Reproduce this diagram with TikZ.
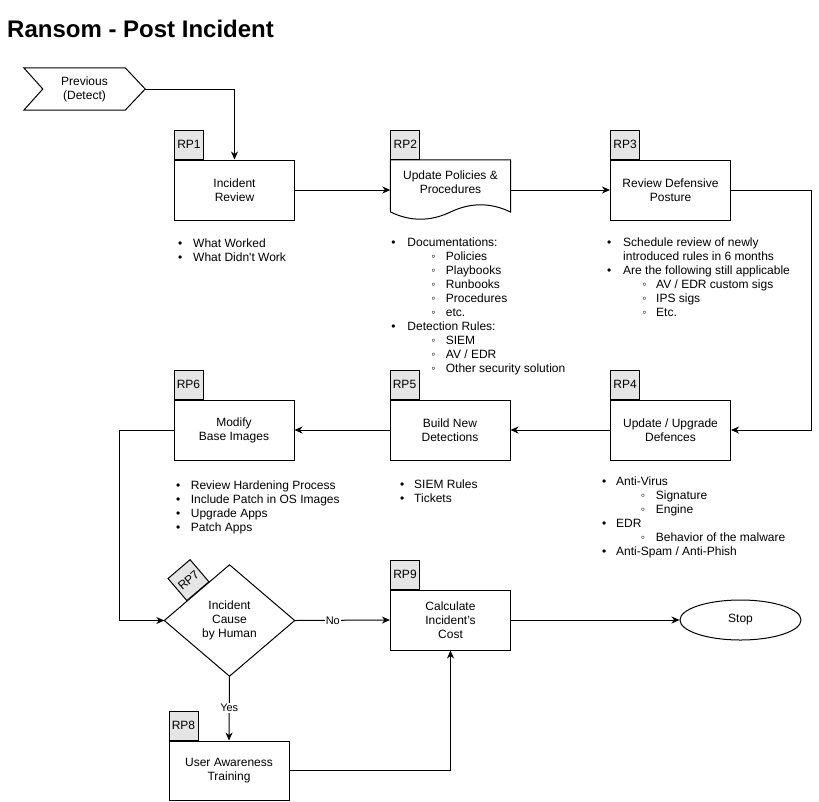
\documentclass[tikz,border=0pt]{standalone}
\usepackage{fontspec}
\setmainfont{Liberation Sans}
\usetikzlibrary{arrows.meta,calc,shapes.geometric}
\newcommand\lmain[2]{\strut\makebox[0pt]{\textbullet}\hspace*{#1pt}#2}
\newcommand\lsub[3]{\strut\hspace*{#1pt}\makebox[0pt]{\char"25E6}\hspace*{#2pt}#3}
\newcommand\lcont[2]{\strut\hspace*{#1pt}#2}
\begin{document}
\begin{tikzpicture}[x=1pt,y=-1pt,
  every node/.style={font=\fontsize{12}{14}\selectfont},
  ln/.style={line width=1pt},
  box/.style={draw, line width=1pt, minimum width=120pt, minimum height=60pt, align=center, inner sep=0pt},
  tabbox/.style={draw, line width=1pt, fill=black!10, minimum width=29pt, minimum height=29pt, inner sep=0pt, anchor=south west},
  arr/.style={line width=1pt, -{Stealth[length=8pt,width=7pt,inset=2.5pt]}},
  lst/.style={anchor=north west, inner sep=0pt, align=left},
  lab/.style={fill=white, inner sep=1pt, font=\fontsize{11}{13}\selectfont}
]
\useasboundingbox (0,0) rectangle (819,801);

% title
\node[anchor=base west, inner sep=0pt, font=\bfseries\fontsize{24}{28}\selectfont] (title) at (7,37) {Ransom - Post Incident};

% previous (step shape)
\node[minimum width=121pt, minimum height=42pt, inner sep=0pt, align=center] (prev) at (84.5,89) {Previous\\(Detect)};
\draw[ln] (prev.north west) -- ($(prev.north east)+(-20,0)$) -- (prev.east) -- ($(prev.south east)+(-20,0)$) -- (prev.south west) -- ($(prev.west)+(19,0)$) -- cycle;

% row 1
\node[box] (rp1) at (234.5,190) {Incident\\Review};
\node[tabbox] (t1) at (rp1.north west) {RP1};

\node[minimum width=120pt, minimum height=60pt, inner sep=0pt] (rp2) at (450.5,190) {};
\draw[ln] (rp2.north west) -- (rp2.north east) -- (510.5,212)
  .. controls (490.5,202.4) and (470.7,202.4) .. (450.5,212)
  .. controls (430.3,221.6) and (410.5,221.6) .. (390.5,212) -- cycle;
\node[align=center, inner sep=0pt] (rp2txt) at (450.5,182) {Update Policies \&\\Procedures};
\node[tabbox] (t2) at (rp2.north west) {RP2};

\node[box] (rp3) at (670.5,190) {Review Defensive\\Posture};
\node[tabbox] (t3) at (rp3.north west) {RP3};

% row 2
\node[box] (rp4) at (670.5,430) {Update / Upgrade\\Defences};
\node[tabbox] (t4) at (rp4.north west) {RP4};
\node[box] (rp5) at (450,430) {Build New\\Detections};
\node[tabbox] (t5) at (rp5.north west) {RP5};
\node[box] (rp6) at (234,430) {Modify\\Base Images};
\node[tabbox] (t6) at (rp6.north west) {RP6};

% decision
\node[minimum width=130pt, minimum height=111pt, inner sep=0pt, align=center] (dia) at (229.5,620.5) {Incident\\Cause\\by Human};
\draw[ln] (dia.west) -- (dia.north) -- (dia.east) -- (dia.south) -- cycle;
\node[tabbox, anchor=south, rotate=40.5] (t7) at ($(dia.west)!0.52!(dia.north)$) {RP7};

% row 3
\node[box] (rp9) at (450.5,620) {Calculate\\Incident's\\Cost};
\node[tabbox] (t9) at (rp9.north west) {RP9};
\node[draw, line width=1pt, ellipse, minimum width=121pt, minimum height=40pt, inner sep=0pt] (stop) at (740.5,620) {Stop};
\node[box, minimum height=59pt] (rp8) at (229,770.5) {User Awareness\\Training};
\node[tabbox] (t8) at (rp8.north west) {RP8};

% connectors
\draw[arr] (prev.east) -| (rp1.north);
\draw[arr] (rp1.east) -- (rp2.west);
\draw[arr] (rp2.east) -- (rp3.west);
\draw[arr] (rp3.east) -- ++(80,0) |- (rp4.east);
\draw[arr] (rp4.west) -- (rp5.east);
\draw[arr] (rp5.west) -- (rp6.east);
\draw[arr] (rp6.west) -- ++(-54,0) |- (dia.west);
\draw[arr] (dia.east) -- node[lab, pos=0.4] (no) {No} (rp9.west);
\draw[arr] (dia.south) -- node[lab, pos=0.49] (yes) {Yes} (rp8.north);
\draw[arr] (rp8.east) -| (rp9.south);
\draw[arr] (rp9.east) -- (stop.west);

% lists
\node[lst] (l1) at (180,237.5) {\lmain{13}{What Worked}\\\lmain{13}{What Didn\textquotesingle t Work}};
\node[lst] (l2) at (393.3,236.8) {\lmain{14}{Documentations:}\\
  \lsub{40}{12.4}{Policies}\\\lsub{40}{12.4}{Playbooks}\\\lsub{40}{12.4}{Runbooks}\\
  \lsub{40}{12.4}{Procedures}\\\lsub{40}{12.4}{etc.}\\
  \lmain{14}{Detection Rules:}\\
  \lsub{40}{12.4}{SIEM}\\\lsub{40}{12.4}{AV / EDR}\\\lsub{40}{12.4}{Other security solution}};
\node[lst] (l3) at (609,236.8) {\lmain{14}{Schedule review of newly}\\\lcont{14}{introduced rules in 6 months}\\
  \lmain{14}{Are the following still applicable}\\
  \lsub{35.3}{11.7}{AV / EDR custom sigs}\\\lsub{35.3}{11.7}{IPS sigs}\\\lsub{35.3}{11.7}{Etc.}};
\node[lst] (l4) at (604,475.5) {\lmain{12}{Anti-Virus}\\\lsub{38.7}{13}{Signature}\\\lsub{38.7}{13}{Engine}\\
  \lmain{12}{EDR}\\\lsub{38.7}{13}{Behavior of the malware}\\\lmain{12}{Anti-Spam / Anti-Phish}};
\node[lst] (l5) at (402,478.5) {\lmain{12}{SIEM Rules}\\\lmain{12}{Tickets}};
\node[lst] (l6) at (178,479.5) {\lmain{12.7}{Review Hardening Process}\\\lmain{12.7}{Include Patch in OS Images}\\
  \lmain{12.7}{Upgrade Apps}\\\lmain{12.7}{Patch Apps}};
\end{tikzpicture}
\end{document}
